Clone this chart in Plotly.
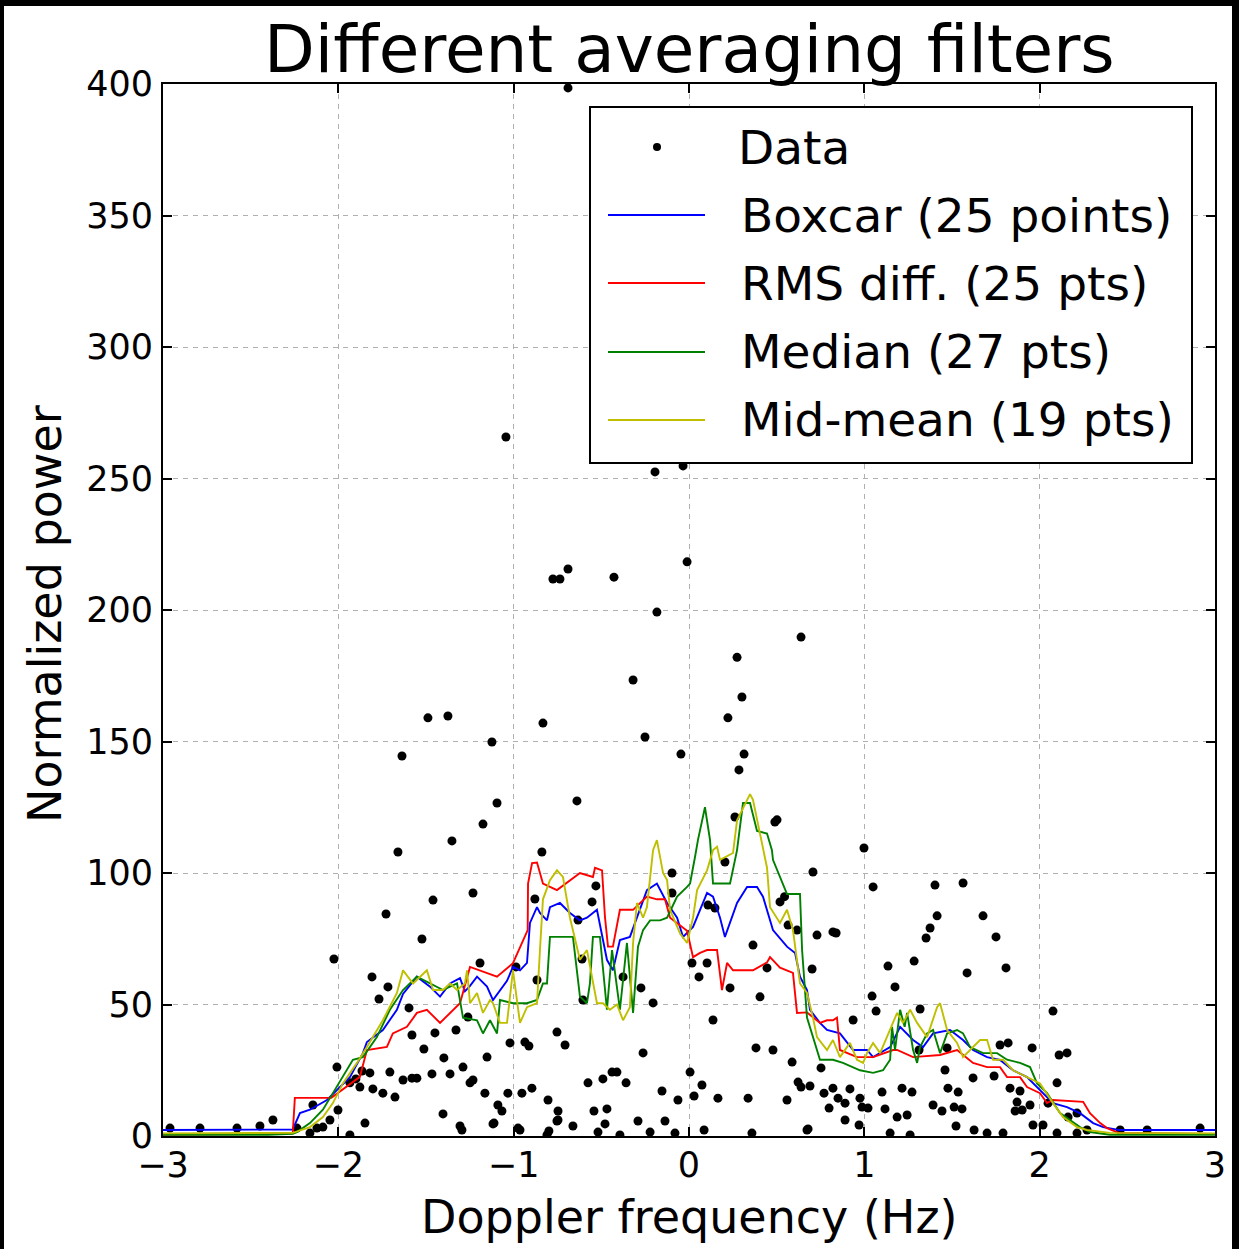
import plotly.graph_objects as go

# ---------------- data ----------------
data_x = [-0.690, -1.044, -0.034, -0.194, -0.011, -0.690, -0.736, -0.776, -0.428, -0.183,
          0.639, 0.274, -0.319, 0.302, -1.489, -1.375, -0.833, 0.222, -0.251, -1.124,
          -1.637, -0.046, 0.314, 0.285, -1.095, -0.639, -1.175, 0.502, 0.490, -1.352,
          -1.660, -0.839, 0.998, 0.262, 0.205, -0.097, 0.707,
          -1.460, -1.232, -1.728, -1.523, -2.025, -1.808, -1.717, -1.192, -1.768, -1.597,
          -1.261, -1.580, -1.449, -1.329, -1.512, -1.398, -1.289, -1.152, -2.008, -1.865,
          -1.820, -1.706, -1.631, -1.580, -1.552, -1.466, -1.363, -1.232, -1.900, -1.934,
          -1.803, -1.746, -1.677, -1.164, -1.877, -2.145, -2.373, -2.002, -2.048, -2.088,
          -2.122, -1.403, -1.848, -1.306, -1.112, -1.934, -2.789, -2.578, -2.447, -2.960,
          -2.236, -2.162, -0.879, -0.867, -1.021, -0.936, -0.913, -0.753, -1.249, -1.033,
          -0.896, -1.090, -1.067, -0.804, -0.747, -1.295, -0.975, -0.799,
          -0.531, -0.553, -0.097, 0.519, 0.545, 0.565, 0.616, 0.730, 0.017, 0.103,
          0.365, 0.445, 0.702, -0.610, -0.376, -0.987, 0.057, 0.234, 0.405, -0.605,
          -0.274, -0.205, 0.137, -0.707, -0.262, 0.382, 0.479, 0.588, 0.753, -0.633,
          0.108, 0.148, 0.821, -0.439, -0.411, -0.491, -0.576, -0.359, 0.006, 0.074,
          -0.154, -0.063, 0.029, 0.165, 0.337, 0.559, 0.622, 0.639, 0.690, 0.770,
          0.821, 0.799, -0.542, -0.468, -0.747, -0.662, -0.479, -0.291, -0.137, -0.519,
          -0.394, -0.222, -0.080, 0.086, 0.359, 0.679,
          1.050, 1.403, 1.563, 0.839, 1.415, 1.677, 1.375, 1.352, 1.751, 1.135,
          1.284, 1.586, 1.808, 1.175, 1.044, 1.067, 2.076, 0.936, 1.318, 1.472,
          1.312, 1.774, 1.820, 1.957, 2.111, 2.156, 1.460, 1.620, 1.740, 2.099,
          1.831, 1.888, 0.918, 1.101, 1.215, 1.272, 1.477, 1.535, 0.850, 0.890,
          0.975, 0.987, 1.021, 1.118, 1.392, 1.443, 1.512, 1.557, 1.871, 1.860,
          1.900, 1.945, 1.187, 1.244, 0.890, 0.970, 1.523, 1.962, 2.019, 2.162,
          1.147, 1.261, 1.626, 1.700, 1.791, 2.099, 2.213, 2.048, 2.213, 2.270,
          2.459, 2.613, 2.915, 0.673, -0.953, -1.118, -0.964, -0.810, -0.753]
data_y = [398.5, 265.8, 254.8, 252.5, 218.3, 215.6, 211.8, 211.8, 212.5, 199.2,
          189.7, 182.0, 173.4, 166.9, 159.0, 159.7, 157.0, 159.0, 151.7, 149.8,
          144.5, 145.2, 145.2, 139.2, 126.6, 127.4, 118.6, 120.2, 119.4, 112.2,
          108.0, 108.0, 109.5, 121.3, 104.2, 100.0, 100.4,
          89.7, 92.4, 84.4, 74.9, 67.3, 60.5, 56.7, 65.8, 52.1, 48.7,
          45.2, 38.4, 39.2, 40.3, 33.1, 29.7, 26.2, 30.0, 26.2, 24.7,
          24.0, 24.3, 21.3, 22.0, 22.0, 23.6, 23.6, 21.3, 21.7, 20.2,
          17.9, 16.3, 14.8, 16.3, 18.6, 11.8, 6.1, 9.9, 6.1, 3.4,
          3.0, 8.4, 4.9, 3.8, 4.9, 0.4, 3.0, 3.0, 3.8, 3.0,
          3.0, 1.1, 90.1, 59.3, 35.4, 35.7, 34.2, 39.5, 20.2, 16.3,
          18.2, 11.8, 9.5, 13.7, 9.5, 2.3, 3.0, 1.9,
          95.1, 89.0, 92.4, 89.0, 91.0, 80.2, 78.3, 76.4, 65.8, 65.8,
          72.6, 63.9, 63.5, 67.3, 60.5, 64.3, 60.5, 56.3, 52.9, 51.7,
          56.3, 50.6, 44.1, 34.6, 31.6, 33.5, 32.7, 28.1, 25.9, 82.1,
          87.8, 86.7, 77.6, 24.3, 24.3, 21.7, 20.2, 20.2, 24.3, 19.4,
          17.1, 13.7, 15.2, 14.4, 14.4, 13.7, 20.5, 18.6, 19.0, 16.3,
          18.2, 10.6, 9.5, 10.3, 6.1, 3.8, 4.6, 5.7, 5.7, 1.5,
          0.4, 1.5, 1.1, 2.3, 1.1, 2.7,
          94.7, 95.4, 96.2, 77.2, 83.7, 83.7, 79.1, 75.3, 75.7, 64.6,
          66.5, 62.0, 63.9, 56.7, 53.2, 47.5, 47.5, 44.1, 48.3, 33.5,
          32.7, 34.6, 35.4, 33.5, 30.8, 31.6, 25.1, 22.1, 22.8, 20.2,
          18.2, 17.1, 17.9, 16.7, 18.2, 16.7, 18.2, 16.7, 14.4, 12.5,
          14.4, 11.0, 10.6, 10.3, 11.8, 9.5, 11.0, 10.3, 12.9, 9.5,
          9.9, 11.8, 7.2, 8.0, 6.1, 4.2, 3.8, 4.2, 4.2, 7.2,
          1.1, 0.4, 2.3, 1.1, 1.1, 1.1, 1.1, 12.5, 8.7, 2.3,
          2.3, 2.3, 3.0, 2.3, 16.3, 4.6, 2.3, 0.4, 5.7]

boxcar_x = [-3.0, -2.6, -2.26, -2.219, -2.162, -2.065, -2.008, -1.934, -1.860, -1.837,
            -1.746, -1.666, -1.631, -1.552, -1.477, -1.420, -1.363, -1.306, -1.278, -1.250,
            -1.209, -1.152, -1.118, -1.038, -1.004, -0.964, -0.924, -0.907, -0.867, -0.850,
            -0.810, -0.793, -0.736, -0.679, -0.622, -0.582, -0.525, -0.468, -0.434, -0.394,
            -0.337, -0.240, -0.183, -0.125, -0.068, -0.034, 0.023, 0.103, 0.137, 0.177,
            0.205, 0.274, 0.331, 0.388, 0.422, 0.479, 0.559, 0.605, 0.633, 0.673,
            0.690, 0.747, 0.787, 0.861, 0.936, 1.015, 1.050, 1.147, 1.204, 1.278,
            1.335, 1.392, 1.489, 1.563, 1.620, 1.700, 1.774, 1.848, 1.928, 2.002,
            2.076, 2.156, 2.230, 2.305, 2.362, 2.45, 3.0]
boxcar_y = [2.3, 2.3, 2.5, 8.7, 10.0, 13.7, 17.5, 22.4, 31.5, 35.7,
            40.3, 48.0, 54.0, 60.6, 56.8, 53.0, 58.0, 60.0, 55.0, 57.0,
            60.6, 56.8, 51.7, 59.0, 64.3, 63.0, 65.8, 81.0, 87.0, 84.8,
            82.0, 87.0, 88.6, 84.8, 82.0, 83.0, 86.0, 67.0, 63.0, 74.5,
            75.7, 93.5, 96.0, 88.6, 83.0, 75.7, 79.5, 92.4, 91.0, 83.0,
            75.7, 88.6, 94.7, 94.7, 91.0, 78.3, 72.0, 69.6, 60.6, 55.5,
            48.0, 43.0, 40.3, 39.0, 32.7, 32.7, 30.0, 33.8, 41.5, 36.5,
            33.8, 39.0, 40.3, 36.5, 32.7, 30.0, 28.9, 25.0, 22.4, 17.5,
            12.5, 11.0, 8.7, 4.9, 3.4, 2.3, 2.3]

rms_x = [-3.0, -2.6, -2.26, -2.248, -2.04, -1.951, -1.877, -1.837, -1.723, -1.689,
         -1.609, -1.552, -1.495, -1.420, -1.346, -1.306, -1.249, -1.095, -1.004, -0.964,
         -0.920, -0.918, -0.895, -0.867, -0.833, -0.753, -0.622, -0.548, -0.536, -0.496,
         -0.479, -0.462, -0.434, -0.394, -0.319, -0.240, -0.183, -0.137, -0.108, -0.011,
         0.023, 0.063, 0.103, 0.160, 0.188, 0.217, 0.251, 0.365, 0.445, 0.462,
         0.519, 0.593, 0.616, 0.673, 0.747, 0.787, 0.821, 0.844, 0.861, 0.958,
         1.050, 1.164, 1.187, 1.278, 1.432, 1.529, 1.620, 1.700, 1.774, 1.814,
         1.888, 1.928, 2.002, 2.042, 2.076, 2.248, 2.287, 2.345, 2.384, 2.45, 3.0]
rms_y = [0.5, 0.6, 1.0, 14.5, 14.5, 18.7, 22.5, 32.7, 33.9, 39.0,
         41.5, 46.8, 48.0, 43.0, 48.0, 50.5, 64.3, 60.6, 65.7, 72.0,
         78.3, 96.0, 103.8, 104.0, 96.0, 93.5, 100.0, 98.5, 102.0, 101.0,
         83.0, 72.0, 72.0, 86.0, 86.0, 91.0, 90.0, 90.0, 83.0, 78.0,
         68.0, 69.6, 70.7, 70.7, 55.5, 65.8, 63.0, 63.0, 66.0, 68.0,
         64.0, 62.0, 46.8, 47.0, 43.0, 44.0, 44.0, 45.0, 32.7, 30.0,
         30.0, 32.7, 32.7, 30.0, 30.8, 32.7, 27.8, 26.2, 26.2, 22.4,
         22.4, 18.6, 16.3, 12.5, 13.7, 13.0, 8.7, 4.9, 3.0, 1.2, 0.8]

median_x = [-3.0, -2.4, -2.26, -2.236, -2.162, -2.088, -2.031, -1.974, -1.917, -1.860,
            -1.780, -1.706, -1.631, -1.552, -1.477, -1.403, -1.323, -1.289, -1.209, -1.175,
            -1.135, -1.095, -1.078, -1.004, -0.924, -0.867, -0.833, -0.810, -0.793, -0.662,
            -0.622, -0.582, -0.565, -0.548, -0.508, -0.468, -0.439, -0.394, -0.354, -0.319,
            -0.291, -0.262, -0.222, -0.165, -0.125, -0.068, -0.011, 0.006, 0.034, 0.051,
            0.091, 0.120, 0.137, 0.234, 0.274, 0.308, 0.348, 0.388, 0.445, 0.473,
            0.479, 0.559, 0.633, 0.645, 0.673, 0.730, 0.747, 0.821, 0.878, 0.975,
            1.050, 1.107, 1.147, 1.158, 1.175, 1.204, 1.230, 1.244, 1.278, 1.301,
            1.318, 1.358, 1.392, 1.432, 1.472, 1.529, 1.563, 1.603, 1.677, 1.757,
            1.814, 1.888, 1.945, 1.985, 2.042, 2.116, 2.173, 2.230, 2.287, 2.4, 3.0]
median_y = [0.5, 0.5, 0.8, 1.5, 4.9, 10.0, 16.3, 22.4, 29.0, 30.0,
            37.6, 48.0, 55.5, 60.6, 58.0, 55.5, 58.0, 45.0, 44.0, 39.0,
            44.0, 39.0, 51.7, 50.5, 50.5, 51.7, 58.0, 58.0, 75.7, 75.7,
            53.0, 50.5, 58.0, 75.7, 75.7, 48.0, 70.7, 48.0, 73.4, 46.8,
            72.0, 78.3, 82.0, 82.0, 83.0, 91.0, 94.7, 96.0, 106.0, 112.5,
            125.0, 112.5, 96.0, 96.0, 108.7, 126.6, 126.6, 116.0, 115.0, 108.7,
            105.0, 92.0, 92.0, 70.7, 45.0, 32.7, 29.0, 29.0, 27.8, 25.0,
            24.0, 25.0, 29.0, 41.5, 32.7, 48.0, 41.5, 46.8, 32.7, 27.8,
            33.8, 39.0, 40.3, 31.5, 39.0, 40.3, 39.0, 33.8, 31.5, 31.5,
            29.0, 27.8, 26.2, 20.0, 16.3, 8.7, 6.0, 3.4, 1.5, 0.5, 0.5]

midmean_x = [-3.0, -2.4, -2.26, -2.162, -2.088, -2.031, -1.974, -1.894, -1.837, -1.746,
             -1.666, -1.631, -1.574, -1.495, -1.460, -1.403, -1.363, -1.323, -1.278, -1.266,
             -1.249, -1.209, -1.175, -1.135, -1.118, -1.078, -1.038, -1.004, -0.964, -0.924,
             -0.867, -0.850, -0.833, -0.793, -0.753, -0.719, -0.679, -0.622, -0.582, -0.525,
             -0.491, -0.451, -0.411, -0.376, -0.337, -0.319, -0.297, -0.262, -0.240, -0.205,
             -0.183, -0.148, -0.125, -0.108, -0.051, -0.011, 0.023, 0.046, 0.103, 0.137,
             0.160, 0.177, 0.251, 0.274, 0.348, 0.365, 0.405, 0.445, 0.462, 0.519,
             0.559, 0.593, 0.633, 0.673, 0.707, 0.730, 0.787, 0.821, 0.861, 0.918,
             0.958, 0.993, 1.015, 1.050, 1.090, 1.147, 1.187, 1.221, 1.261, 1.301,
             1.358, 1.415, 1.432, 1.472, 1.529, 1.563, 1.620, 1.660, 1.700, 1.734,
             1.791, 1.848, 1.928, 2.002, 2.076, 2.133, 2.213, 2.270, 2.4, 3.0]
midmean_y = [1.0, 1.0, 1.2, 3.4, 7.2, 12.5, 20.0, 27.8, 33.8, 44.0,
             54.4, 63.0, 58.0, 63.0, 55.5, 55.5, 58.0, 55.5, 58.0, 63.0,
             50.5, 54.4, 46.8, 51.7, 50.5, 43.0, 43.0, 63.0, 43.0, 49.0,
             50.5, 70.7, 90.0, 97.3, 101.0, 98.5, 83.0, 67.0, 70.7, 50.5,
             50.5, 48.0, 50.0, 44.0, 49.0, 73.4, 88.6, 83.0, 87.0, 108.7,
             112.5, 100.0, 97.3, 86.0, 77.0, 73.4, 83.0, 93.5, 101.0, 108.7,
             110.0, 105.0, 107.6, 120.0, 130.0, 127.8, 115.0, 102.0, 87.0, 81.0,
             86.0, 78.3, 58.0, 54.4, 45.0, 37.6, 32.7, 36.5, 30.0, 35.4,
             29.0, 27.8, 31.5, 35.4, 31.5, 40.3, 46.8, 43.0, 48.0, 43.0,
             37.6, 49.0, 50.5, 40.3, 35.4, 30.0, 33.8, 36.5, 36.5, 29.0,
             29.0, 25.0, 22.4, 20.0, 12.5, 7.2, 3.4, 2.3, 1.2, 1.0]

series_names = ["Boxcar (25 points)", "RMS diff. (25 pts)", "Median (27 pts)", "Mid-mean (19 pts)"]
series_colors = ["#0000ff", "#ff0000", "#008000", "#bfbf00"]
x_ticks = [-3, -2, -1, 0, 1, 2, 3]
y_ticks = [0, 50, 100, 150, 200, 250, 300, 350, 400]

# ---------------- figure ----------------
W, H = 1239, 1249
L, R, T, B = 163, 24, 84, 113
PW, PH = W - L - R, H - T - B


def px2x(px):
    return (px - L) / PW


def py2y(py):
    return (H - B - py) / PH


FONT = "DejaVu Sans"
fig = go.Figure()

fig.add_trace(go.Scatter(x=data_x, y=data_y, mode="markers", name="Data",
                         marker=dict(color="black", size=9, symbol="circle"),
                         showlegend=False))
for xs, ys, nm, col in zip([boxcar_x, rms_x, median_x, midmean_x],
                           [boxcar_y, rms_y, median_y, midmean_y],
                           series_names, series_colors):
    fig.add_trace(go.Scatter(x=xs, y=ys, mode="lines", name=nm,
                             line=dict(color=col, width=1.9), showlegend=False))

axis_common = dict(showline=True, linecolor="black", linewidth=2, mirror="ticks",
                   ticks="inside", ticklen=9, tickwidth=1.5, tickcolor="black",
                   showgrid=True, gridcolor="#b0b0b0", gridwidth=1.3, griddash="5px,5px",
                   zeroline=False, tickfont=dict(family=FONT, size=35, color="black"))

fig.update_xaxes(range=[-3, 3], tickvals=x_ticks, ticklabelstandoff=-3, **axis_common)
fig.update_yaxes(range=[0, 400], tickvals=y_ticks, ticklabelstandoff=1, **axis_common)

shapes = []
annotations = []

# black frame edges of the picture
shapes.append(dict(type="rect", xref="paper", yref="paper", x0=-0.2, x1=1.1,
                   y0=py2y(6), y1=py2y(-20), fillcolor="black", line=dict(width=0)))
shapes.append(dict(type="rect", xref="paper", yref="paper", x0=px2x(-20), x1=px2x(4),
                   y0=py2y(1300), y1=py2y(-20), fillcolor="black", line=dict(width=0)))
shapes.append(dict(type="rect", xref="paper", yref="paper", x0=px2x(1232), x1=px2x(1260),
                   y0=py2y(1300), y1=py2y(-20), fillcolor="black", line=dict(width=0)))

# legend box
shapes.append(dict(type="rect", xref="paper", yref="paper",
                   x0=px2x(590), x1=px2x(1192), y0=py2y(463), y1=py2y(107),
                   fillcolor="white", line=dict(color="black", width=2)))
entry_py = [147, 215, 283, 352, 420]
shapes.append(dict(type="circle", xref="paper", yref="paper",
                   x0=px2x(653), x1=px2x(661), y0=py2y(151), y1=py2y(143),
                   fillcolor="black", line=dict(width=0)))
annotations.append(dict(text="Data", xref="paper", yref="paper", x=px2x(736),
                        y=py2y(entry_py[0]), xanchor="left", yanchor="middle",
                        showarrow=False, font=dict(family=FONT, size=47, color="black")))
for i, (nm, col) in enumerate(zip(series_names, series_colors)):
    yy = py2y(entry_py[i + 1])
    shapes.append(dict(type="line", xref="paper", yref="paper", x0=px2x(608), x1=px2x(705),
                       y0=yy, y1=yy, line=dict(color=col, width=1.9)))
    annotations.append(dict(text=nm, xref="paper", yref="paper", x=px2x(739), y=yy,
                            xanchor="left", yanchor="middle", showarrow=False,
                            font=dict(family=FONT, size=47, color="black")))

# titles
annotations.append(dict(text="Different averaging filters", xref="paper", yref="paper",
                        x=0.5, y=py2y(50), xanchor="center", yanchor="middle", showarrow=False,
                        font=dict(family=FONT, size=66, color="black")))
annotations.append(dict(text="Doppler frequency (Hz)", xref="paper", yref="paper",
                        x=0.5, y=py2y(1217), xanchor="center", yanchor="middle", showarrow=False,
                        font=dict(family=FONT, size=46, color="black")))
annotations.append(dict(text="Normalized power", xref="paper", yref="paper",
                        x=px2x(45), y=py2y(614), xanchor="center", yanchor="middle",
                        textangle=-90, showarrow=False,
                        font=dict(family=FONT, size=46, color="black")))

fig.update_layout(width=W, height=H, margin=dict(l=L, r=R, t=T, b=B, autoexpand=False),
                  paper_bgcolor="white", plot_bgcolor="white", showlegend=False,
                  shapes=shapes, annotations=annotations,
                  font=dict(family=FONT, color="black"))

fig.write_html("out.html")
